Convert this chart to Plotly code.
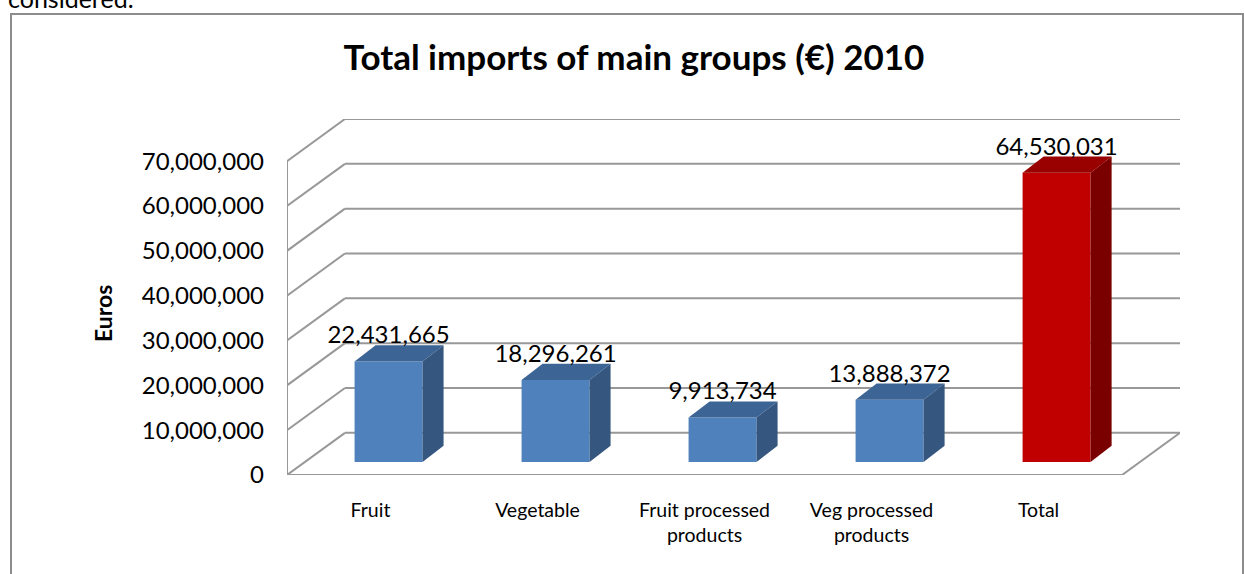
import plotly.graph_objects as go

# ---- data ----
categories = ["Fruit", "Vegetable", "Fruit processed<br>products", "Veg processed<br>products", "Total"]
values = [22431665, 18296261, 9913734, 13888372, 64530031]
front_colors = ["#4F81BD", "#4F81BD", "#4F81BD", "#4F81BD", "#C00000"]
top_colors = ["#3C6494", "#3C6494", "#3C6494", "#3C6494", "#990000"]
side_colors = ["#34567F", "#34567F", "#34567F", "#34567F", "#7A0000"]
tick_values = [0, 10000000, 20000000, 30000000, 40000000, 50000000, 60000000, 70000000]
tick_labels = ["0", "10,000,000", "20,000,000", "30,000,000", "40,000,000",
               "50,000,000", "60,000,000", "70,000,000"]

# ---- layout geometry ----
W, H = 1244, 574
PLOT_L, PLOT_R, PLOT_T, PLOT_B = 287, 1180, 119, 475   # target page pixels
L, R, T, B = PLOT_L, W - PLOT_R, PLOT_T, H - PLOT_B
FONT = "Lato"
GRID = "#989898"

# pseudo-3D depth (in axis units)
DEPTH_X = 0.347          # wall depth, category units
DEPTH_Y = 9.4e6          # wall depth, value units
BAR_OFF_X, BAR_OFF_Y = 0.108, 2.9e6     # bar front plane offset
BAR_DX, BAR_DY = 0.126, 3.6e6           # bar depth
BAR_W = 0.407
LABEL_DROP = 0.9e6

n = len(categories)
x_range = [-0.5, n - 0.5 + DEPTH_X]
y_top = tick_values[-1] + DEPTH_Y
plot_w = W - L - R
plot_h = H - T - B


def paper_x(px):
    return (px - L) / plot_w


def paper_y(py):
    return (H - B - py) / plot_h


fig = go.Figure()

# front faces of bars
fig.add_trace(go.Bar(
    x=[i + BAR_OFF_X for i in range(n)], y=values, base=BAR_OFF_Y,
    width=BAR_W, marker=dict(color=front_colors, line=dict(width=0)),
    showlegend=False, hoverinfo="skip"))

# top and side faces
for i, v in enumerate(values):
    x0 = i + BAR_OFF_X - BAR_W / 2
    x1 = i + BAR_OFF_X + BAR_W / 2
    y0 = BAR_OFF_Y
    y1 = BAR_OFF_Y + v
    fig.add_trace(go.Scatter(
        x=[x0, x1, x1 + BAR_DX, x0 + BAR_DX, x0],
        y=[y1, y1, y1 + BAR_DY, y1 + BAR_DY, y1],
        mode="lines", fill="toself", fillcolor=top_colors[i],
        line=dict(width=0), showlegend=False, hoverinfo="skip"))
    fig.add_trace(go.Scatter(
        x=[x1, x1 + BAR_DX, x1 + BAR_DX, x1, x1],
        y=[y0, y0 + BAR_DY, y1 + BAR_DY, y1, y0],
        mode="lines", fill="toself", fillcolor=side_colors[i],
        line=dict(width=0), showlegend=False, hoverinfo="skip"))

# data labels
fig.add_trace(go.Scatter(
    x=[i + BAR_OFF_X for i in range(n)],
    y=[BAR_OFF_Y + v + BAR_DY - LABEL_DROP for v in values],
    mode="text", text=[f"{v:,}" for v in values], textposition="top center",
    textfont=dict(family=FONT, size=24, color="#000000"),
    showlegend=False, hoverinfo="skip", cliponaxis=False))

# walls / gridlines
shapes = []
xl, xr = -0.5, n - 0.5
for v in tick_values:
    shapes.append(dict(type="line", x0=xl + DEPTH_X, x1=xr + DEPTH_X, y0=v + DEPTH_Y, y1=v + DEPTH_Y,
                       line=dict(color=GRID, width=2), layer="below"))
    shapes.append(dict(type="line", x0=xl, x1=xl + DEPTH_X, y0=v, y1=v + DEPTH_Y,
                       line=dict(color=GRID, width=2), layer="below"))
shapes.append(dict(type="line", x0=xl, x1=xl, y0=0, y1=tick_values[-1],
                   line=dict(color=GRID, width=2), layer="below"))
shapes.append(dict(type="line", x0=xl, x1=xr, y0=0, y1=0,
                   line=dict(color=GRID, width=2), layer="below"))
shapes.append(dict(type="line", x0=xr, x1=xr + DEPTH_X, y0=0, y1=DEPTH_Y,
                   line=dict(color=GRID, width=2), layer="below"))
# outer chart frame
shapes.append(dict(type="rect", xref="paper", yref="paper",
                   x0=paper_x(11), x1=paper_x(1243), y0=paper_y(14), y1=paper_y(600),
                   line=dict(color="#8C8C8C", width=2), layer="below"))

fig.update_layout(
    width=W, height=H,
    margin=dict(l=L, r=R, t=T, b=B, autoexpand=False),
    paper_bgcolor="white", plot_bgcolor="white",
    shapes=shapes,
    title=dict(text="<b>Total imports of main groups (€) 2010</b>",
               x=634 / W, xref="container", xanchor="center",
               y=1 - 58 / H, yref="container", yanchor="middle",
               font=dict(family=FONT, size=35, color="#000000")),
    xaxis=dict(range=x_range, tickmode="array", tickvals=list(range(n)), ticktext=categories,
               showgrid=False, zeroline=False, showline=False, ticks="",
               ticklabelstandoff=21,
               tickfont=dict(family=FONT, size=19.5, color="#000000"), fixedrange=True),
    yaxis=dict(range=[0, y_top], tickmode="array", tickvals=tick_values, ticktext=tick_labels,
               showgrid=False, zeroline=False, showline=False, ticks="",
               ticklabelstandoff=22,
               tickfont=dict(family=FONT, size=24, color="#000000"), fixedrange=True),
    annotations=[
        dict(text="<b>Euros</b>", textangle=-90, xref="paper", yref="paper",
             x=paper_x(103), y=paper_y(314), xanchor="center", yanchor="middle",
             showarrow=False, font=dict(family=FONT, size=23, color="#000000")),
        dict(text="considered.", xref="paper", yref="paper",
             x=paper_x(6), y=paper_y(15), xanchor="left", yanchor="bottom",
             showarrow=False, font=dict(family=FONT, size=25, color="#000000")),
    ],
)

fig.write_html("out.html",
               config={"displayModeBar": False, "staticPlot": True},
               post_script="document.body.style.margin='0px';document.body.style.overflow='hidden';")
